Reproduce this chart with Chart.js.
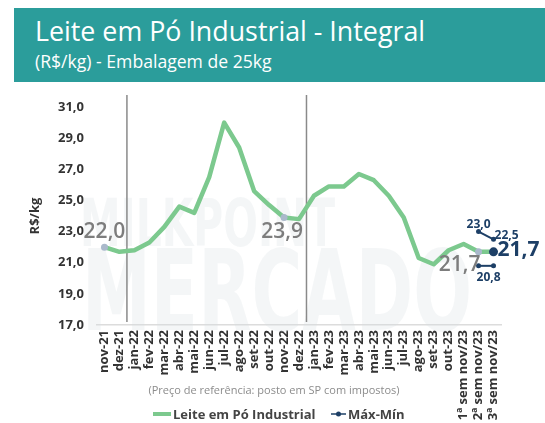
<!DOCTYPE html>
<html>
<head>
<meta charset="utf-8">
<script src="https://cdn.jsdelivr.net/npm/chart.js@4.4.1/dist/chart.umd.min.js"></script>
<style>
  html, body { margin: 0; padding: 0; background: #fff; overflow: hidden; }
  #wrap { position: relative; width: 545px; height: 423px; }
  #chart { position: absolute; left: 0; top: 0; }
  #hdr { position: absolute; left: 14px; top: 8px; width: 531px; height: 74px; background: #2b9d9b; color: #fff; font-family: 'Open Sans', sans-serif; }
  #hdr .t { position: absolute; left: 21px; top: 6px; font-size: 26.8px; line-height: 34px; white-space: nowrap; font-weight: 400; }
  #hdr .s { position: absolute; left: 21px; top: 41px; font-size: 17.6px; line-height: 24px; white-space: nowrap; }
</style>
</head>
<body>
<div id="wrap">
  <canvas id="chart" width="545" height="423"></canvas>
  <div id="hdr">
    <div class="t">Leite em Pó Industrial - Integral</div>
    <div class="s">(R$/kg) - Embalagem de 25kg</div>
  </div>
</div>
<script>
// categories (x axis)
const categories = [
  'nov-21', 'dez-21', 'jan-22', 'fev-22', 'mar-22', 'abr-22', 'mai-22', 'jun-22',
  'jul-22', 'ago-22', 'set-22', 'out-22', 'nov-22', 'dez-22', 'jan-23', 'fev-23',
  'mar-23', 'abr-23', 'mai-23', 'jun-23', 'jul-23', 'ago-23', 'set-23', 'out-23',
  '1ª sem nov/23', '2ª sem nov/23', '3ª sem nov/23'
];

// Leite em Pó Industrial (R$/kg)
const leite = [
  22.0, 21.7, 21.8, 22.3, 23.3, 24.6, 24.2, 26.5,
  30.0, 28.4, 25.6, 24.7, 23.9, 23.8, 25.3, 25.9,
  25.9, 26.7, 26.3, 25.3, 23.9, 21.3, 20.9, 21.8,
  22.2, 21.7, 21.7
];

// Máx-Mín range (only the last two weeks)
const maxima = [
  null, null, null, null, null, null, null, null, null, null, null, null, null, null,
  null, null, null, null, null, null, null, null, null, null, null, 23.0, 22.5
];
const minima = [
  null, null, null, null, null, null, null, null, null, null, null, null, null, null,
  null, null, null, null, null, null, null, null, null, null, null, 20.8, 20.8
];

// y tick labels
const yTicks = [17, 19, 21, 23, 25, 27, 29, 31];

// year separators sit between these category positions
const separators = [1.5, 13.5];

const GREEN = '#7cc98e';
const NAVY = '#1d3f66';
const GREYDOT = '#aab9cb';
const FONT = "'Open Sans', sans-serif";

const fmt = v => v.toFixed(1).replace('.', ',');

// points that get a marker on the main line
const markedGrey = [0, 12, 25];
const markedNavy = [26];

// value labels: dataset index, point index, offset from the point, style
const valueLabels = [
  { ds: 0, i: 0,  dx: 0,   dy: -15, font: '600 21px ' + FONT, color: '#7d7d7d' },
  { ds: 0, i: 12, dx: -2,  dy: 14,  font: '600 21px ' + FONT, color: '#7d7d7d' },
  { ds: 0, i: 25, dx: -19, dy: 13,  font: '600 21px ' + FONT, color: '#7d7d7d' },
  { ds: 0, i: 26, dx: 25,  dy: -2,  font: 'bold 21px ' + FONT, color: NAVY },
  { ds: 1, i: 25, dx: 0,   dy: -7,  font: 'bold 12px ' + FONT, color: NAVY },
  { ds: 1, i: 26, dx: 13,  dy: -4,  font: 'bold 12px ' + FONT, color: NAVY },
  { ds: 2, i: 26, dx: -5,  dy: 12,  font: 'bold 12px ' + FONT, color: NAVY }
];

const extras = {
  id: 'extras',
  beforeDatasetsDraw(chart) {
    const ctx = chart.ctx;
    // faint watermark
    ctx.save();
    ctx.fillStyle = 'rgba(215,222,228,0.28)';
    ctx.textBaseline = 'alphabetic';
    ctx.textAlign = 'left';
    ctx.font = "bold 66px 'DejaVu Sans Condensed', sans-serif";
    ctx.fillText('MILKPOINT', 80, 246, 255);
    ctx.font = "bold 112px 'DejaVu Sans Condensed', sans-serif";
    ctx.fillText('MERCADO', 82, 330, 390);
    ctx.restore();

    // vertical year separators
    const xs = chart.scales.x;
    ctx.save();
    ctx.strokeStyle = '#8a8a8a';
    ctx.lineWidth = 1.5;
    separators.forEach(p => {
      const x = xs.getPixelForValue(p);
      ctx.beginPath();
      ctx.moveTo(x, chart.chartArea.top - 12);
      ctx.lineTo(x, chart.chartArea.bottom - 3);
      ctx.stroke();
    });
    ctx.restore();
  },
  afterDatasetsDraw(chart) {
    const ctx = chart.ctx;
    ctx.save();
    ctx.textAlign = 'center';
    ctx.textBaseline = 'middle';
    valueLabels.forEach(l => {
      const pt = chart.getDatasetMeta(l.ds).data[l.i];
      const v = chart.data.datasets[l.ds].data[l.i];
      ctx.font = l.font;
      ctx.fillStyle = l.color;
      ctx.fillText(fmt(v), pt.x + l.dx, pt.y + l.dy);
    });
    ctx.restore();
  },
  afterDraw(chart) {
    const ctx = chart.ctx;
    ctx.save();
    // footnote
    ctx.font = '11px ' + FONT;
    ctx.fillStyle = '#8c8c8c';
    ctx.textAlign = 'center';
    ctx.textBaseline = 'middle';
    ctx.fillText('(Preço de referência: posto em SP com impostos)', 274, 391);

    // legend
    ctx.textAlign = 'left';
    ctx.font = 'bold 13px ' + FONT;
    ctx.fillStyle = '#444';
    ctx.strokeStyle = GREEN;
    ctx.lineWidth = 4;
    ctx.beginPath(); ctx.moveTo(153, 414); ctx.lineTo(171, 414); ctx.stroke();
    ctx.fillText('Leite em Pó Industrial', 173, 415);
    ctx.strokeStyle = NAVY;
    ctx.lineWidth = 1.5;
    ctx.beginPath(); ctx.moveTo(331, 414); ctx.lineTo(346, 414); ctx.stroke();
    ctx.fillStyle = NAVY;
    ctx.beginPath(); ctx.arc(338.5, 414, 2.5, 0, Math.PI * 2); ctx.fill();
    ctx.fillStyle = '#444';
    ctx.fillText('Máx-Mín', 348, 415);
    ctx.restore();
  }
};

new Chart(document.getElementById('chart'), {
  type: 'line',
  data: {
    labels: categories,
    datasets: [
      {
        label: 'Leite em Pó Industrial',
        data: leite,
        borderColor: GREEN,
        borderWidth: 4.5,
        tension: 0,
        borderJoinStyle: 'round',
        pointRadius: leite.map((v, i) => markedNavy.includes(i) ? 4.5 : (markedGrey.includes(i) ? 3.5 : 0)),
        pointBackgroundColor: leite.map((v, i) => markedNavy.includes(i) ? NAVY : GREYDOT),
        pointBorderWidth: 0
      },
      {
        label: 'Máx',
        data: maxima,
        borderColor: NAVY,
        borderWidth: 2,
        pointRadius: 2.5,
        pointBackgroundColor: NAVY,
        pointBorderWidth: 0,
        spanGaps: false
      },
      {
        label: 'Mín',
        data: minima,
        borderColor: NAVY,
        borderWidth: 2,
        pointRadius: 2.5,
        pointBackgroundColor: NAVY,
        pointBorderWidth: 0,
        spanGaps: false
      }
    ]
  },
  options: {
    responsive: false,
    animation: false,
    layout: { padding: { top: 107, right: 44, bottom: 0, left: 0 } },
    plugins: { legend: { display: false }, tooltip: { enabled: false } },
    scales: {
      x: {
        offset: true,
        grid: { display: false, drawTicks: false },
        border: { display: true, color: '#dcdcdc', width: 1.5 },
        ticks: {
          autoSkip: false, maxRotation: 90, minRotation: 90, padding: 5,
          color: '#333', font: { family: FONT, weight: 'bold', size: 13 }
        },
        afterFit(s) { s.height = 98; }
      },
      y: {
        min: 17, max: 31,
        afterBuildTicks(s) { s.ticks = yTicks.map(v => ({ value: v })); },
        grid: { display: false, drawTicks: false },
        border: { display: false },
        ticks: {
          padding: 13, color: '#333',
          font: { family: FONT, weight: 'bold', size: 13 },
          callback: v => fmt(v)
        },
        title: {
          display: true, text: 'R$/kg', color: '#333',
          font: { family: FONT, weight: 'bold', size: 13 },
          padding: { top: 27, bottom: 0 }
        },
        afterFit(s) { s.width = 97; }
      }
    }
  },
  plugins: [extras]
});
</script>
</body>
</html>
